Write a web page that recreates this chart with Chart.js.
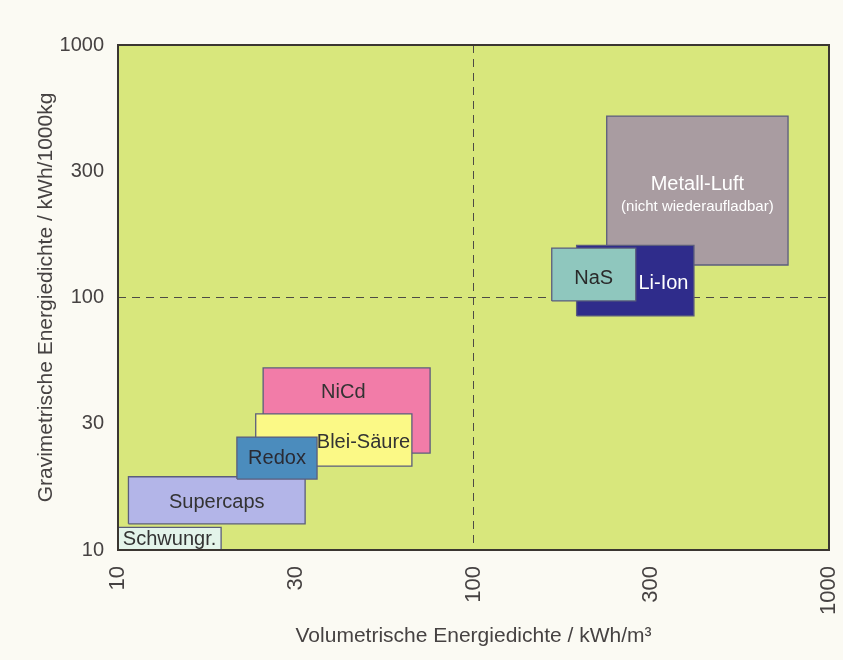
<!DOCTYPE html>
<html>
<head>
<meta charset="utf-8">
<script src="https://cdn.jsdelivr.net/npm/chart.js@4"></script>
<style>
  html, body { margin: 0; padding: 0; background: #fbfaf3; }
  #wrap { width: 843px; height: 660px; }
</style>
</head>
<body>
<div id="wrap"><canvas id="energyChart"></canvas></div>
<script>
// storage technologies: volumetric (x) and gravimetric (y) energy density ranges
const techNames = ['Schwungr.', 'Supercaps', 'Redox', 'Blei-Säure', 'NiCd', 'Metall-Luft', 'Li-Ion', 'NaS'];
const techNotes = ['', '', '', '', '', '(nicht wiederaufladbar)', '', ''];
const volMin = [10, 10.7, 21.6, 24.4, 25.6, 237, 195, 166];
const volMax = [19.5, 33.6, 36.3, 67.1, 75.5, 767, 417, 286];
const gravMin = [10, 12.7, 19.1, 21.5, 24.2, 134.5, 84.5, 96.9];
const gravMax = [12.3, 19.5, 28.0, 34.6, 52.6, 523, 161, 157];
// the original puts its "30" / "300" marks half way through each decade
const tickValues = [10, 31.62, 100, 316.2, 1000];
const tickLabels = ['10', '30', '100', '300', '1000'];

// look of each box (same order as techNames)
const fillColors = ['#e3f4ea', '#b3b5e8', '#4b8cbd', '#fbf986', '#f27ca8', '#a99ca1', '#2f2c8b', '#8fc7be'];
const textColors = ['#333', '#333', '#2a2a33', '#333', '#333', '#fff', '#fff', '#2a2a2a'];
const layer = [5, 3, 4, 2, 1, 6, 7, 8]; // higher = drawn on top
const labelAt = [[0.5, 0.55], [0.5, 0.55], [0.5, 0.52], [0.69, 0.54], [0.48, 0.29], [0.5, 0.46], [0.74, 0.54], [0.5, 0.57]];

const FONT = '"Liberation Sans", Arial, Helvetica, sans-serif';
const ctx = document.getElementById('energyChart').getContext('2d');

function boxPoints(i) {
  return [
    { x: volMin[i], y: gravMin[i] },
    { x: volMax[i], y: gravMin[i] },
    { x: volMax[i], y: gravMax[i] },
    { x: volMin[i], y: gravMax[i] },
    { x: volMin[i], y: gravMin[i] },
  ];
}

const datasets = techNames.map((name, i) => ({
  label: name,
  data: boxPoints(i),
  showLine: true,
  fill: 'shape',
  backgroundColor: fillColors[i],
  borderColor: '#5b5d7c',
  borderWidth: 1.3,
  pointRadius: 0,
  tension: 0,
  order: -layer[i],
}));

// plot background, frame and box labels
const decorations = {
  id: 'decorations',
  beforeDraw(chart) {
    const { left, top, width, height } = chart.chartArea;
    const c = chart.ctx;
    c.save();
    c.fillStyle = '#d8e77c';
    c.fillRect(left, top, width, height);
    c.restore();
  },
  afterDatasetsDraw(chart) {
    const c = chart.ctx;
    const { x, y } = chart.scales;
    c.save();
    c.textAlign = 'center';
    c.textBaseline = 'middle';
    techNames.forEach((name, i) => {
      const x1 = x.getPixelForValue(volMin[i]);
      const x2 = x.getPixelForValue(volMax[i]);
      const y1 = y.getPixelForValue(gravMax[i]);
      const y2 = y.getPixelForValue(gravMin[i]);
      const px = x1 + (x2 - x1) * labelAt[i][0];
      const py = y1 + (y2 - y1) * labelAt[i][1];
      c.fillStyle = textColors[i];
      c.font = `20px ${FONT}`;
      c.fillText(name, px, py);
      if (techNotes[i]) {
        c.font = `15px ${FONT}`;
        c.fillText(techNotes[i], px, py + 22);
      }
    });
    c.restore();
  },
  afterDraw(chart) {
    const { left, top, width, height } = chart.chartArea;
    const c = chart.ctx;
    c.save();
    c.strokeStyle = '#3b3631';
    c.lineWidth = 2;
    c.strokeRect(left, top, width, height);
    c.restore();
  },
};

function axisOptions(title, isX) {
  return {
    type: 'logarithmic',
    min: 10,
    max: 1000,
    afterBuildTicks(scale) {
      scale.ticks = tickValues.map((v) => ({ value: v }));
    },
    afterFit(scale) {
      if (isX) {
        scale.height = 110;
        scale.paddingLeft = 0;
        scale.paddingRight = 0;
      } else {
        scale.width = 118;
        scale.paddingTop = 0;
        scale.paddingBottom = 0;
      }
    },
    ticks: {
      color: '#464242',
      font: { family: FONT, size: isX ? 22 : 20 },
      padding: isX ? 16 : 14,
      minRotation: isX ? 90 : 0,
      maxRotation: isX ? 90 : 0,
      autoSkip: false,
      callback: (v, idx) => tickLabels[idx],
    },
    grid: {
      drawTicks: false,
      color: (c) => (c.tick && c.tick.value === 100 ? '#4d4a45' : 'rgba(0,0,0,0)'),
      lineWidth: 1,
    },
    border: { display: false, dash: [8, 6] },
    title: {
      display: true,
      text: title,
      color: '#464242',
      font: { family: FONT, size: 21 },
      padding: isX ? { top: 0, bottom: 11 } : { top: 34, bottom: 0 },
    },
  };
}

const chart = new Chart(ctx, {
  type: 'scatter',
  data: { datasets },
  options: {
    responsive: true,
    maintainAspectRatio: false,
    animation: false,
    events: [],
    layout: { padding: { top: 45, right: 14, left: 0, bottom: 0 } },
    plugins: {
      legend: { display: false },
      tooltip: { enabled: false },
    },
    scales: {
      x: axisOptions('Volumetrische Energiedichte / kWh/m³', true),
      y: axisOptions('Gravimetrische Energiedichte / kWh/1000kg', false),
    },
  },
  plugins: [decorations],
});
</script>
</body>
</html>
